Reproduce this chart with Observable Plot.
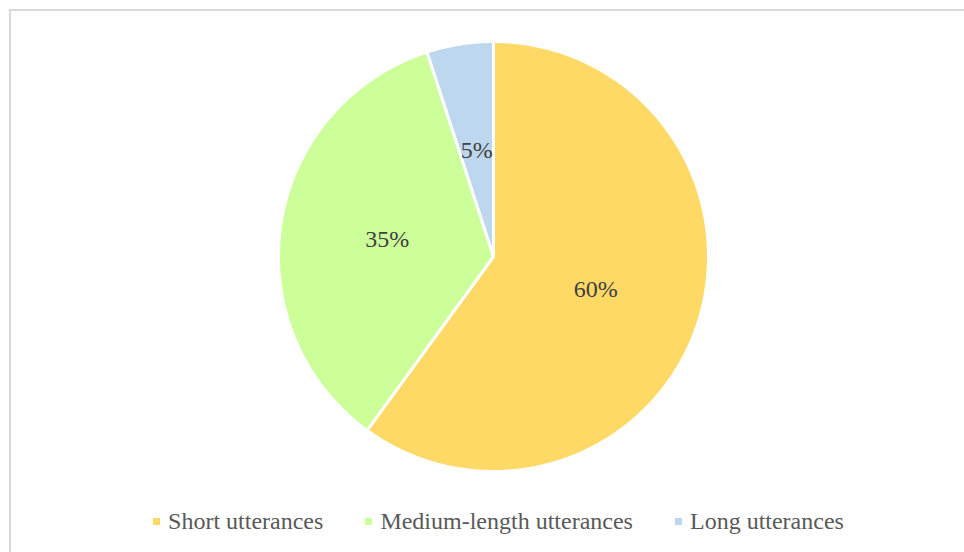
<!DOCTYPE html>
<html>
<head>
<meta charset="utf-8">
<script src="https://cdn.jsdelivr.net/npm/d3@7"></script>
<script src="https://cdn.jsdelivr.net/npm/@observablehq/plot@0.6"></script>
<style>
  html, body { margin: 0; padding: 0; background: #fff; }
  body { width: 964px; height: 552px; position: relative; overflow: hidden; font-family: "Liberation Serif", serif; }
  #frame { position: absolute; left: 9px; top: 9px; width: 1000px; height: 600px; border-left: 2px solid #d9d9d9; border-top: 2px solid #d9d9d9; box-sizing: border-box; }
  #chart { position: absolute; left: 0; top: 0; }
  #chart svg text { font-family: "Liberation Serif", serif !important; }
  #legend { position: absolute; left: 0; width: 997px; top: 508px; display: flex; justify-content: center; gap: 42px; font-size: 24px; color: #595959; font-family: "Liberation Serif", serif; }
  .item { display: flex; align-items: center; white-space: nowrap; }
  .sw { width: 7px; height: 7px; margin-right: 8px; display: inline-block; }
</style>
</head>
<body>
<div id="frame"></div>
<div id="chart"></div>
<div id="legend"></div>
<script>
const categories = ["Short utterances", "Medium-length utterances", "Long utterances"];
const values = [60, 35, 5];
const labels = ["60%", "35%", "5%"];
const colors = ["#ffd966", "#ccff99", "#bdd7ee"];

const pie = d3.pie().sort(null).value(d => d.value)(categories.map((c, i) => ({category: c, value: values[i], label: labels[i]})));

// Build slice outlines in unit-circle data space from the pie angles
const slicePts = [];
pie.forEach(p => {
  const n = Math.max(2, Math.ceil((p.endAngle - p.startAngle) / (Math.PI / 180)));
  slicePts.push({category: p.data.category, x: 0, y: 0});
  for (let k = 0; k <= n; k++) {
    const a = p.startAngle + (p.endAngle - p.startAngle) * k / n;
    slicePts.push({category: p.data.category, x: Math.sin(a), y: Math.cos(a)});
  }
});
const labelPts = pie.map(p => {
  const a = (p.startAngle + p.endAngle) / 2;
  return {label: p.data.label, x: 0.5 * Math.sin(a), y: 0.5 * Math.cos(a)};
});

const plot = Plot.plot({
  width: 964,
  height: 512,
  marginLeft: 278,
  marginRight: 256,
  marginTop: 41,
  marginBottom: 41,
  x: {domain: [-1, 1], axis: null},
  y: {domain: [-1, 1], axis: null},
  color: {domain: categories, range: colors},
  style: {background: "transparent", overflow: "visible", fontFamily: "Liberation Serif"},
  marks: [
    Plot.line(slicePts, {x: "x", y: "y", z: "category", fill: "category", stroke: "#ffffff", strokeWidth: 3, curve: "linear-closed", strokeLinejoin: "round"}),
    Plot.text(labelPts, {x: "x", y: "y", text: "label", fontSize: 24, fill: "#404040", fontFamily: "Liberation Serif"})
  ]
});
document.getElementById("chart").appendChild(plot);

const legend = document.getElementById("legend");
categories.forEach((c, i) => {
  const it = document.createElement("div");
  it.className = "item";
  const sw = document.createElement("span");
  sw.className = "sw";
  sw.style.background = colors[i];
  it.appendChild(sw);
  const t = document.createElement("span");
  t.textContent = c;
  it.appendChild(t);
  legend.appendChild(it);
});
</script>
</body>
</html>
